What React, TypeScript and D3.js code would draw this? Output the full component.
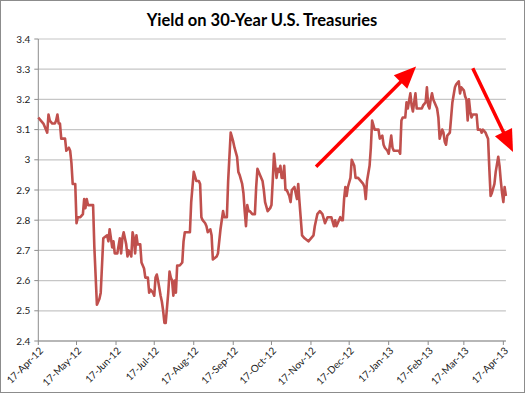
import React from "react";
import * as d3 from "d3";

const dates: string[] = [
  "2012-04-17","2012-04-19","2012-04-21","2012-04-22","2012-04-24","2012-04-25","2012-04-26","2012-04-28","2012-04-30",
  "2012-05-01","2012-05-02","2012-05-03","2012-05-04","2012-05-05","2012-05-07","2012-05-08","2012-05-09","2012-05-11","2012-05-12","2012-05-13","2012-05-14","2012-05-16","2012-05-17","2012-05-18","2012-05-20","2012-05-22","2012-05-23","2012-05-24","2012-05-25","2012-05-26","2012-05-28","2012-05-30","2012-05-31",
  "2012-06-02","2012-06-04","2012-06-05","2012-06-07","2012-06-10","2012-06-11","2012-06-12","2012-06-14","2012-06-15","2012-06-16","2012-06-18","2012-06-20","2012-06-21","2012-06-22","2012-06-23","2012-06-25","2012-06-26","2012-06-27","2012-06-29","2012-06-30",
  "2012-07-01","2012-07-02","2012-07-03","2012-07-04","2012-07-06","2012-07-07","2012-07-09","2012-07-10","2012-07-12","2012-07-13","2012-07-14","2012-07-16","2012-07-17","2012-07-18","2012-07-19","2012-07-20","2012-07-22","2012-07-23","2012-07-24","2012-07-25","2012-07-26","2012-07-28","2012-07-29","2012-07-30","2012-07-31",
  "2012-08-01","2012-08-02","2012-08-03","2012-08-04","2012-08-06","2012-08-08","2012-08-09","2012-08-10","2012-08-12","2012-08-14","2012-08-15","2012-08-17","2012-08-19","2012-08-21","2012-08-22","2012-08-23","2012-08-24","2012-08-26","2012-08-27","2012-08-28","2012-08-30","2012-08-31",
  "2012-09-01","2012-09-04","2012-09-05","2012-09-07","2012-09-09","2012-09-10","2012-09-12","2012-09-13","2012-09-15","2012-09-17","2012-09-18","2012-09-20","2012-09-21","2012-09-22","2012-09-24","2012-09-25","2012-09-26","2012-09-27","2012-09-28","2012-09-29","2012-09-30",
  "2012-10-02","2012-10-04","2012-10-05","2012-10-06","2012-10-08","2012-10-10","2012-10-11","2012-10-12","2012-10-14","2012-10-16","2012-10-17","2012-10-18","2012-10-19","2012-10-20","2012-10-21","2012-10-22","2012-10-23","2012-10-24","2012-10-25","2012-10-26","2012-10-27","2012-10-28","2012-10-29","2012-10-31",
  "2012-11-01","2012-11-02","2012-11-04","2012-11-05","2012-11-06","2012-11-07","2012-11-08","2012-11-10","2012-11-12","2012-11-15","2012-11-17","2012-11-19","2012-11-20","2012-11-22","2012-11-24","2012-11-26","2012-11-28","2012-11-30",
  "2012-12-01","2012-12-02","2012-12-03","2012-12-05","2012-12-06","2012-12-07","2012-12-09","2012-12-10","2012-12-11","2012-12-12","2012-12-13","2012-12-14","2012-12-15","2012-12-16","2012-12-18","2012-12-19","2012-12-21","2012-12-22","2012-12-24","2012-12-26","2012-12-28","2012-12-29","2012-12-30","2012-12-31",
  "2013-01-02","2013-01-03","2013-01-04","2013-01-06","2013-01-07","2013-01-09","2013-01-10","2013-01-12","2013-01-13","2013-01-14","2013-01-16","2013-01-17","2013-01-19","2013-01-20","2013-01-21","2013-01-23","2013-01-25","2013-01-26","2013-01-27","2013-01-28","2013-01-30","2013-01-31",
  "2013-02-01","2013-02-03","2013-02-04","2013-02-05","2013-02-07","2013-02-08","2013-02-09","2013-02-11","2013-02-12","2013-02-13","2013-02-15","2013-02-16","2013-02-17","2013-02-18","2013-02-19","2013-02-20","2013-02-21","2013-02-22","2013-02-24","2013-02-25","2013-02-26","2013-02-28",
  "2013-03-01","2013-03-02","2013-03-03","2013-03-04","2013-03-06","2013-03-07","2013-03-08","2013-03-10","2013-03-11","2013-03-13","2013-03-14","2013-03-15","2013-03-17","2013-03-18","2013-03-19","2013-03-20","2013-03-21","2013-03-22","2013-03-23","2013-03-24","2013-03-26","2013-03-27","2013-03-28","2013-03-30","2013-03-31",
  "2013-04-01","2013-04-03","2013-04-04","2013-04-05","2013-04-06","2013-04-07","2013-04-08","2013-04-10","2013-04-11","2013-04-13","2013-04-14","2013-04-15","2013-04-16","2013-04-17","2013-04-18","2013-04-19"
];

const yields: number[] = [
  3.14,3.13,3.12,3.11,3.09,3.15,3.13,3.12,3.12,
  3.13,3.15,3.12,3.12,3.07,3.07,3.07,3.03,3.04,3.03,2.99,2.92,2.92,2.79,2.81,2.81,2.82,2.87,2.84,2.87,2.85,2.85,2.85,2.71,
  2.52,2.54,2.56,2.74,2.75,2.73,2.77,2.71,2.73,2.69,2.69,2.74,2.69,2.74,2.76,2.72,2.68,2.70,2.68,2.76,
  2.74,2.69,2.75,2.72,2.72,2.66,2.64,2.61,2.61,2.56,2.57,2.56,2.55,2.61,2.62,2.60,2.55,2.53,2.50,2.46,2.46,2.56,2.63,2.61,2.60,
  2.55,2.60,2.56,2.65,2.65,2.66,2.73,2.76,2.76,2.76,2.86,2.96,2.93,2.93,2.92,2.81,2.80,2.79,2.78,2.76,2.77,2.75,
  2.67,2.68,2.69,2.77,2.83,2.81,2.81,2.93,3.09,3.06,3.04,3.01,2.96,2.95,2.92,2.89,2.83,2.78,2.85,2.83,2.83,
  2.82,2.82,2.91,2.97,2.95,2.93,2.90,2.86,2.83,2.84,2.85,2.93,3.02,2.98,2.94,2.97,2.96,2.98,2.94,2.94,2.98,2.90,2.90,2.88,
  2.86,2.90,2.91,2.89,2.87,2.92,2.86,2.75,2.74,2.73,2.74,2.75,2.78,2.82,2.83,2.82,2.79,2.81,
  2.81,2.81,2.81,2.78,2.80,2.78,2.80,2.81,2.80,2.80,2.87,2.91,2.88,2.91,2.94,3.00,2.98,2.94,2.94,2.93,2.92,2.91,2.87,2.93,
  2.98,3.04,3.13,3.10,3.10,3.10,3.07,3.08,3.05,3.04,3.03,3.02,3.08,3.04,3.03,3.03,3.03,3.02,3.13,3.14,3.14,3.19,
  3.17,3.22,3.18,3.16,3.22,3.17,3.17,3.17,3.17,3.18,3.19,3.24,3.18,3.17,3.20,3.22,3.20,3.19,3.17,3.14,3.07,3.10,
  3.09,3.06,3.05,3.08,3.09,3.14,3.19,3.24,3.25,3.26,3.22,3.24,3.23,3.21,3.20,3.13,3.20,3.16,3.14,3.15,3.15,3.15,3.10,3.10,3.09,
  3.10,3.09,3.08,3.07,2.97,2.88,2.89,2.92,2.96,3.01,2.98,2.93,2.89,2.86,2.91,2.88
];

const xTickDates: string[] = [
  "2012-04-17","2012-05-17","2012-06-17","2012-07-17","2012-08-17","2012-09-17","2012-10-17",
  "2012-11-17","2012-12-17","2013-01-17","2013-02-17","2013-03-17","2013-04-17"
];
const yTicks: number[] = [2.4, 2.5, 2.6, 2.7, 2.8, 2.9, 3.0, 3.1, 3.2, 3.3, 3.4];
const xDomain: string[] = ["2012-04-17", "2013-04-19"];
const yDomain: number[] = [2.4, 3.4];

const title = "Yield on 30-Year U.S. Treasuries";

// annotation arrows (data coordinates)
const arrowFromDates: string[] = ["2012-11-21", "2013-03-24"];
const arrowFromValues: number[] = [2.977, 3.303];
const arrowToDates: string[] = ["2013-02-07T12:00", "2013-04-24T14:00"];
const arrowToValues: number[] = [3.309, 3.026];

const W = 525;
const H = 393;
const M = { left: 38.3, right: 505.9, top: 39, bottom: 341 };
const FONT = "Lato, 'Open Sans', 'Liberation Sans', sans-serif";

export default function App() {
  const parse = (s: string) => new Date(s.length > 10 ? s : s + "T00:00");
  const x = d3.scaleTime().domain(xDomain.map(parse)).range([M.left, M.right]);
  const y = d3.scaleLinear().domain(yDomain).range([M.bottom, M.top]);
  const data = dates.map((d, i) => ({ d: parse(d), v: yields[i] }));
  const line = d3
    .line<{ d: Date; v: number }>()
    .x((p) => x(p.d))
    .y((p) => y(p.v))
    .curve(d3.curveLinear);
  const fmtDate = d3.timeFormat("%d-%b-%y");
  const fmtY = (v: number) => String(Math.round(v * 10) / 10);

  const arrows = arrowFromDates.map((fd, i) => {
    const x1 = x(parse(fd));
    const y1 = y(arrowFromValues[i]);
    const x2 = x(parse(arrowToDates[i]));
    const y2 = y(arrowToValues[i]);
    const dx = x2 - x1;
    const dy = y2 - y1;
    const len = Math.sqrt(dx * dx + dy * dy);
    const ux = dx / len;
    const uy = dy / len;
    const hl = 22;
    const hw = 9.5;
    const bx = x2 - ux * hl;
    const by = y2 - uy * hl;
    const head = [
      [x2, y2],
      [bx - uy * hw, by + ux * hw],
      [bx + uy * hw, by - ux * hw],
    ];
    return { x1, y1, bx: x2 - ux * (hl - 2), by: y2 - uy * (hl - 2), head };
  });

  return (
    <svg
      width={W}
      height={H}
      style={{ position: "absolute", left: 0, top: 0, background: "#fff" }}
      fontFamily={FONT}
    >
      <rect x={0.5} y={0.5} width={W - 1} height={H - 1} fill="#fff" stroke="#8c8c8c" strokeWidth={1} />
      <text x={262} y={26} textAnchor="middle" fontSize={16.5} fontWeight="bold" fill="#000">
        {title}
      </text>
      {yTicks.map((t) => (
        <g key={"y" + t}>
          <line x1={M.left} x2={M.right} y1={y(t)} y2={y(t)} stroke="#c6c6c6" strokeWidth={1.2} />
          <line x1={M.left - 4} x2={M.left} y1={y(t)} y2={y(t)} stroke="#8c8c8c" strokeWidth={1} />
          <text x={M.left - 8} y={y(t)} dy="0.35em" textAnchor="end" fontSize={10} fill="#222">
            {fmtY(t)}
          </text>
        </g>
      ))}
      <line x1={M.left} x2={M.left} y1={M.top} y2={M.bottom} stroke="#8c8c8c" strokeWidth={1} />
      <line x1={M.left} x2={M.right} y1={M.bottom} y2={M.bottom} stroke="#8c8c8c" strokeWidth={1} />
      {xTickDates.map((t) => {
        const xx = x(parse(t));
        return (
          <g key={"x" + t}>
            <line x1={xx} x2={xx} y1={M.bottom} y2={M.bottom + 4} stroke="#8c8c8c" strokeWidth={1} />
            <text
              transform={`translate(${xx + 3},${M.bottom + 8}) rotate(-45)`}
              textAnchor="end"
              dy="0.35em"
              fontSize={10}
              fill="#222"
            >
              {fmtDate(parse(t))}
            </text>
          </g>
        );
      })}
      <path d={line(data) || ""} fill="none" stroke="#c0504d" strokeWidth={2.6} strokeLinejoin="round" />
      {arrows.map((a, i) => (
        <g key={"a" + i}>
          <line x1={a.x1} y1={a.y1} x2={a.bx} y2={a.by} stroke="#ff0000" strokeWidth={3.5} />
          <polygon points={a.head.map((p) => p.join(",")).join(" ")} fill="#ff0000" />
        </g>
      ))}
    </svg>
  );
}
